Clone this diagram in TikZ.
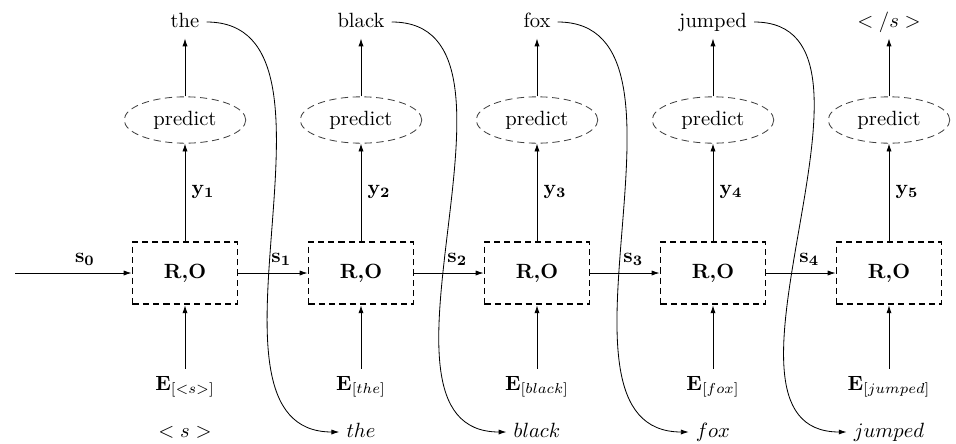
\documentclass[tikz,border=0pt]{standalone}
\usetikzlibrary{shapes.geometric,arrows.meta}
\begin{document}
\def\eos{$</s>$}
\def\bos{$<s>$}
\begin{tikzpicture}[x=0.4854pt,y=-0.4854pt,
  arr/.style={-{Latex[length=3.8pt,width=2.5pt]}, line width=0.4pt},
  robox/.style={draw, line width=0.9pt, dash pattern=on 3pt off 2pt, minimum width=51pt, minimum height=30.5pt, font=\bfseries},
  pred/.style={ellipse, draw=black!75, line width=0.4pt, dash pattern=on 3.5pt off 2.2pt, minimum width=59pt, minimum height=22.5pt, inner sep=0pt},
  word/.style={text height=7pt, text depth=2pt},
  lab/.style={inner sep=3pt}]
\useasboundingbox (0,0) rectangle (956,443);
\foreach \i/\tw/\bw/\sub in {1/the/\bos/{<s>}, 2/black/$the$/the, 3/fox/$black$/black, 4/jumped/$fox$/fox, 5/\eos/$jumped$/jumped}
{
  \pgfmathsetmacro\xx{185+176*(\i-1)}
  \node[robox] (ro\i) at (\xx,273) {R,O};
  \node[pred] (p\i) at (\xx,120) {predict};
  \node[word] (t\i) at (\xx,22) {\tw};
  \node[word] (w\i) at (\xx,432) {\bw};
  \node[anchor=base] (e\i) at (\xx,390) {$\mathbf{E}_{[\sub]}$};
  \draw[arr] (e\i) -- (ro\i);
  \draw[arr] (ro\i) -- node[right, lab]{$\mathbf{y_{\i}}$} (p\i);
  \draw[arr] (p\i) -- (t\i);
}
\coordinate (s0start) at (15,273);
\draw[arr] (s0start) -- node[above, pos=0.6]{$\mathbf{s_0}$} (ro1);
\foreach \i [evaluate=\i as \j using int(\i+1)] in {1,...,4}
{
  \draw[arr] (ro\i) -- node[above, pos=0.62]{$\mathbf{s_{\i}}$} (ro\j);
  \draw[arr] (t\i.east) .. controls +(160,0) and +(-160,0) .. (w\j.west);
}
\end{tikzpicture}
\end{document}
